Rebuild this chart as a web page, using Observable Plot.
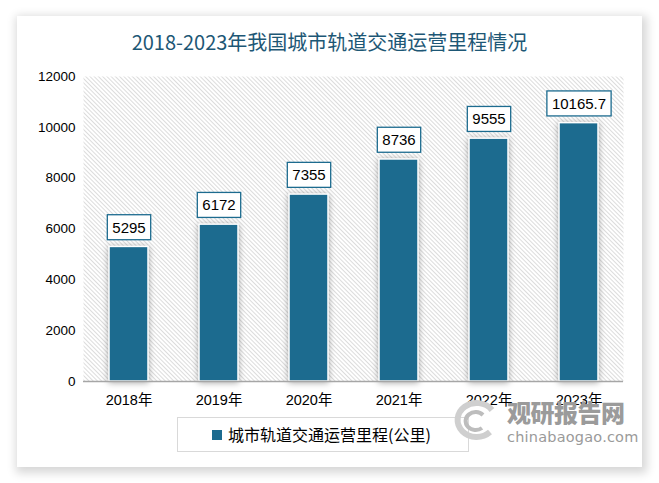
<!DOCTYPE html>
<html>
<head>
<meta charset="utf-8">
<script src="https://cdn.jsdelivr.net/npm/d3@7"></script>
<script src="https://cdn.jsdelivr.net/npm/@observablehq/plot@0.6"></script>
<style>
  html, body { margin:0; padding:0; background:#fff; width:659px; height:483px; overflow:hidden; }
  body { position:relative; font-family:"Liberation Sans","Noto Sans CJK SC",sans-serif; }
  #card { position:absolute; left:17px; top:16px; width:625px; height:451px; background:#fff;
          box-shadow: 2px 3px 9px 3px rgba(0,0,0,0.16); }
  #chart { position:absolute; left:0; top:0; }
  #title { position:absolute; left:0; top:29px; width:659px; text-align:center; font-family:"Noto Sans CJK SC",sans-serif;
           font-size:20px; line-height:26px; color:#1d5775; }
  #legend { position:absolute; left:177px; top:417px; width:290px; height:33px; border:1px solid #d9d9d9; box-sizing:content-box; }
  #legend .sw { position:absolute; left:34px; top:12px; width:10px; height:10px; background:#1c6b8f; }
  #legend .lt { position:absolute; left:50px; top:5px; font-size:16px; line-height:22px; color:#000;
                font-family:"Noto Sans CJK SC",sans-serif; white-space:nowrap; }
  #wm1 { position:absolute; left:507px; top:397px; font-family:"Noto Sans CJK SC",sans-serif; font-weight:900;
         font-size:24px; line-height:30px; color:#9b9b9b; letter-spacing:-0.5px; white-space:nowrap; }
  #wm2 { position:absolute; left:507px; top:428px; font-family:"DejaVu Sans",sans-serif;
         font-size:14.5px; line-height:18px; color:#9a9a9a; letter-spacing:0.2px; white-space:nowrap; }
  #logo { position:absolute; left:452px; top:398px; }
</style>
</head>
<body>
<div id="card"></div>
<div id="chart"></div>
<div id="title">2018-2023年我国城市轨道交通运营里程情况</div>
<div id="legend"><div class="sw"></div><div class="lt">城市轨道交通运营里程(公里)</div></div>
<svg id="logo" width="46" height="44" viewBox="0 0 46 44">
  <path d="M40 12 A19 17 0 1 0 38 34" fill="none" stroke="#cfcfcf" stroke-width="6"/>
  <path d="M31 17 A10 9 0 1 0 30 30" fill="none" stroke="#bdbdbd" stroke-width="4"/>
</svg>
<div id="wm1">观研报告网</div>
<div id="wm2">chinabaogao.com</div>
<script>
const years = ["2018年","2019年","2020年","2021年","2022年","2023年"];
const values = [5295, 6172, 7355, 8736, 9555, 10165.7];
const labels = ["5295","6172","7355","8736","9555","10165.7"];
const yTicks = [0, 2000, 4000, 6000, 8000, 10000, 12000];

const data = years.map((y, i) => ({year: y, value: values[i], label: labels[i]}));
const barColor = "#1c6b8f";

const chart = Plot.plot({
  width: 659,
  height: 483,
  marginLeft: 83,
  marginRight: 36,
  marginTop: 76,
  marginBottom: 102,
  style: {background: "transparent", fontFamily: "Liberation Sans, Noto Sans CJK SC, sans-serif", fontSize: "12.5px", color: "#000"},
  x: {domain: years, paddingInner: 0.567, paddingOuter: 0.2835, label: null},
  y: {domain: [0, 12000], label: null},
  marks: [
    Plot.frame({fill: "url(#hatch)", stroke: "none"}),
    Plot.axisY({ticks: yTicks, tickSize: 0, tickPadding: 8, tickFormat: d => String(d), label: null, fontSize: 13.5}),
    Plot.axisX({tickSize: 0, tickPadding: 13, label: null, fontSize: 14.5}),
    Plot.barY(data, {x: "year", y: "value", fill: barColor, stroke: "white", strokeWidth: 1.5}),
    Plot.ruleY([0], {stroke: "#a6a6a6", strokeWidth: 1.5}),
    Plot.text(data, {x: "year", y: "value", text: "label", dy: -19, fontSize: 15, fill: "#000"})
  ]
});
document.getElementById("chart").appendChild(chart);

const NS = "http://www.w3.org/2000/svg";
const defs = document.createElementNS(NS, "defs");
defs.innerHTML = '<pattern id="hatch" patternUnits="userSpaceOnUse" width="3" height="3" patternTransform="rotate(-45)">' +
  '<rect width="3" height="3" fill="#ffffff"/><line x1="0.5" y1="0" x2="0.5" y2="3" stroke="#dcdcdc" stroke-width="1"/></pattern>';
chart.insertBefore(defs, chart.firstChild);

// shadow on bars
chart.querySelectorAll("rect").forEach(r => {
  if ((r.getAttribute("fill") || "") === barColor || (r.parentNode.getAttribute("fill") || "") === barColor) {
    r.parentNode.style.filter = "drop-shadow(0px 1px 3px rgba(0,0,0,0.35))";
  }
});

// boxes behind value labels
const svgBox = chart.getBoundingClientRect();
const labelSet = new Set(labels);
const boxG = document.createElementNS(NS, "g");
let firstLabelTop = null;
chart.querySelectorAll("text").forEach(t => {
  if (!labelSet.has(t.textContent)) return;
  const b = t.getBoundingClientRect();
  const x = b.left - svgBox.left, y = b.top - svgBox.top;
  const cy = y + b.height / 2;
  const r = document.createElementNS(NS, "rect");
  r.setAttribute("x", x - 5);
  r.setAttribute("y", cy - 12.5);
  r.setAttribute("width", b.width + 10);
  r.setAttribute("height", 25);
  r.setAttribute("fill", "#fff");
  r.setAttribute("stroke", barColor);
  r.setAttribute("stroke-width", 1.3);
  boxG.appendChild(r);
  let top = t;
  while (top.parentNode && top.parentNode !== chart) top = top.parentNode;
  firstLabelTop = top;
});
if (firstLabelTop) chart.insertBefore(boxG, firstLabelTop);
</script>
</body>
</html>
